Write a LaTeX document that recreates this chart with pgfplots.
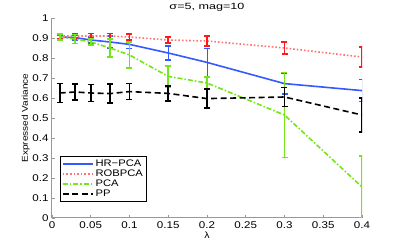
\documentclass[border=0pt]{standalone}
\usepackage{fontspec}
\setmainfont[FakeStretch=1.18]{Liberation Sans}
\newfontfamily\titlefont[FakeStretch=1.4]{Liberation Sans}
\usepackage{pgfplots}
\pgfplotsset{compat=1.18}
\usepackage{pgfplotstable}
\definecolor{mblue}{rgb}{0.2,0.35,1}
\definecolor{mred}{rgb}{1,0.1,0.1}
\definecolor{mredl}{rgb}{1,0.45,0.45}
\definecolor{mgreen}{rgb}{0.45,0.9,0.1}
\pgfplotstableread{
x      hr     hre    rob   robe   pca   pcae   pp     ppe
0.01   0.905  0.010  0.910 0.012  0.905 0.015  0.625  0.047
0.03   0.902  0.012  0.910 0.012  0.895 0.022  0.630  0.040
0.05   0.890  0.015  0.910 0.012  0.880 0.015  0.625  0.042
0.075  0.880  0.030  0.910 0.012  0.850 0.045  0.622  0.048
0.1    0.868  0.020  0.905 0.016  0.815 0.065  0.632  0.040
0.15   0.825  0.035  0.890 0.016  0.708 0.052  0.623  0.038
0.2    0.778  0.070  0.885 0.025  0.675 0.030  0.597  0.048
0.3    0.672  0.052  0.850 0.030  0.515 0.212  0.605  0.048
0.4    0.637  0.055  0.805 0.050  0.155 0.155  0.515  0.085
}\data
\begin{document}
\begin{tikzpicture}[x=1pt,y=1pt]
\path[use as bounding box] (-52,-27) rectangle (347,218);
\begin{axis}[
  at={(0,0)}, anchor=south west,
  scale only axis, width=310pt, height=200pt,
  xmin=0, xmax=0.4, ymin=0, ymax=1,
  clip marker paths=true,
  axis x line*=bottom, axis y line*=left,
  axis line style={draw=black!40, line width=1pt},
  tick style={draw=black!40, line width=0.8pt},
  tick align=inside,
  major tick length=3pt,
  xtick={0,0.05,...,0.4}, ytick={0,0.1,...,1},
  xticklabels={0,0.05,0.1,0.15,0.2,0.25,0.3,0.35,0.4},
  yticklabels={0,0.1,0.2,0.3,0.4,0.5,0.6,0.7,0.8,0.9,1},
  ticklabel style={font=\fontsize{9.8}{11}\selectfont},
  /pgf/number format/assume math mode=true,
  title={σ=5, mag=10},
  title style={font=\titlefont\fontsize{9}{10}\selectfont, yshift=-3pt},
  xlabel={λ}, xlabel style={font=\fontsize{9}{10}\selectfont, yshift=3pt},
  ylabel={Expressed Variance}, ylabel style={font=\fontsize{8.5}{10}\selectfont, yshift=-4pt},
  legend style={at={(0.026,0.08)}, anchor=south west, draw=black, line width=0.8pt,
    font=\fontsize{9.5}{11}\selectfont, inner sep=1.5pt, row sep=-2pt},
  legend cell align=left,
  legend image code/.code={\draw[#1, line width=1.6pt] (0pt,0pt) -- (30pt,0pt);},
  error bars/error mark options={rotate=90, mark size=3pt, line width=1.6pt},
]
\addplot[mblue, line width=1.6pt, error bars/.cd, y dir=both, y explicit]
  table[x=x, y=hr, y error=hre] {\data};
\addlegendentry{HR\textminus PCA}
\addplot[mredl, line width=1.6pt, dotted, error bars/.cd, y dir=both, y explicit,
  error bar style={solid, mred, line width=1.6pt}, error mark options={rotate=90, mark size=3pt, line width=1.6pt, mred}]
  table[x=x, y=rob, y error=robe] {\data};
\addlegendentry{ROBPCA}
\addplot[mgreen, line width=1.6pt, dash pattern=on 5pt off 2pt on 1.5pt off 2pt, error bars/.cd, y dir=both, y explicit,
  error bar style={solid, line width=1.6pt}]
  table[x=x, y=pca, y error=pcae] {\data};
\addlegendentry{PCA}
\addplot[black, line width=1.6pt, dash pattern=on 6pt off 3.5pt, error bars/.cd, y dir=both, y explicit,
  error bar style={solid, line width=1.6pt}]
  table[x=x, y=pp, y error=ppe] {\data};
\addlegendentry{PP}
\end{axis}
\end{tikzpicture}
\end{document}
